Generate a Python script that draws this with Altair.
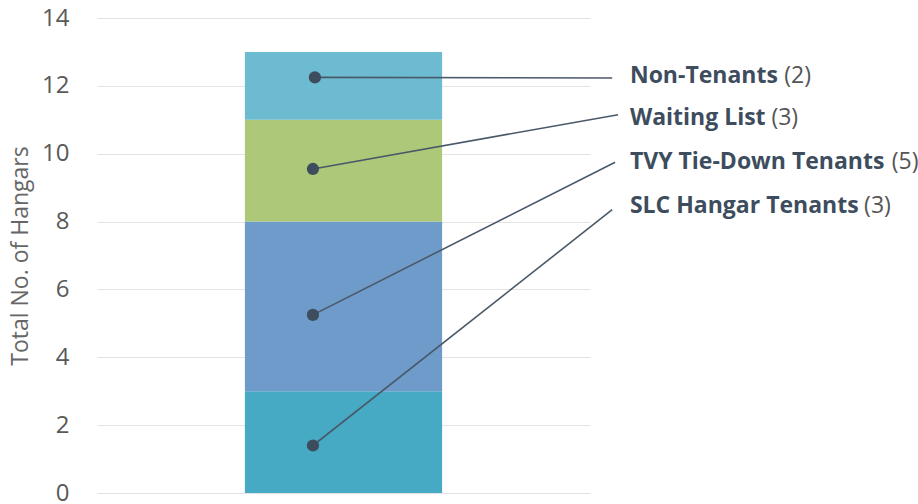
import altair as alt
import pandas as pd

categories = ["SLC Hangar Tenants", "TVY Tie-Down Tenants", "Waiting List", "Non-Tenants"]
counts = [3, 5, 3, 2]
colors = ["#47aac4", "#6f9bcb", "#aec879", "#6dbbd0"]
dot_x = [43.8, 43.8, 43.8, 44.2]
dot_y = [1.4, 5.25, 9.55, 12.25]
leader_end_x = [104.5, 105.1, 105.7, 104.5]
leader_end_y = [8.35, 9.75, 11.15, 12.23]
label_x = [108.1, 108.1, 108.1, 108.1]
label_y = [8.47, 9.76, 11.05, 12.28]
count_x = [155.6, 161.2, 136.8, 139.4]
bar_left = 30
bar_right = 70

starts, ends = [], []
acc = 0
for c in counts:
    starts.append(acc)
    acc += c
    ends.append(acc)

df = pd.DataFrame({
    "category": categories,
    "count": counts,
    "start": starts,
    "end": ends,
    "x0": [bar_left] * 4,
    "x1": [bar_right] * 4,
    "dx": dot_x,
    "dy": dot_y,
    "ex": leader_end_x,
    "ey": leader_end_y,
    "lx": label_x,
    "ly": label_y,
    "cx": count_x,
    "count_text": [f"({c})" for c in counts],
})

xs = alt.Scale(domain=[0, 100])
ys = alt.Scale(domain=[0, 14])

base = alt.Chart(df)

bars = base.mark_rect().encode(
    x=alt.X("x0:Q", scale=xs, axis=None),
    x2="x1:Q",
    y=alt.Y("start:Q", scale=ys, axis=alt.Axis(
        title="Total No. of Hangars", values=list(range(0, 15, 2)),
        grid=True, gridColor="#e3e3e3", gridWidth=1.2, ticks=False, domain=False,
        labelFontSize=24, labelColor="#595959", labelPadding=28,
        labelFont="Open Sans", titleFont="Open Sans", titleFontSize=23,
        titleFontWeight="normal", titleColor="#666666", titlePadding=9)),
    y2="end:Q",
    color=alt.Color("category:N", scale=alt.Scale(domain=categories, range=colors), legend=None),
)

leaders = base.mark_rule(color="#4a5968", strokeWidth=1.6).encode(
    x=alt.X("dx:Q", scale=xs), x2="ex:Q",
    y=alt.Y("dy:Q", scale=ys), y2="ey:Q",
)

dots = base.mark_circle(size=150, color="#3d4d5e", opacity=1).encode(
    x=alt.X("dx:Q", scale=xs), y=alt.Y("dy:Q", scale=ys),
)

labels = base.mark_text(align="left", baseline="middle", fontSize=23, fontWeight="bold",
                        font="Open Sans", color="#3d4d5e").encode(
    x=alt.X("lx:Q", scale=xs), y=alt.Y("ly:Q", scale=ys), text="category:N",
)

count_labels = base.mark_text(align="left", baseline="middle", fontSize=23,
                              font="Open Sans", color="#555555").encode(
    x=alt.X("cx:Q", scale=xs), y=alt.Y("ly:Q", scale=ys), text="count_text:N",
)

chart = alt.layer(bars, leaders, dots, labels, count_labels).properties(
    width=493, height=475,
    autosize=alt.AutoSizeParams(type="none"),
    padding={"left": 97, "top": 18, "right": 328, "bottom": 11},
).configure_view(stroke=None)

chart.save("out.html", embed_options={"renderer": "svg", "actions": False})
